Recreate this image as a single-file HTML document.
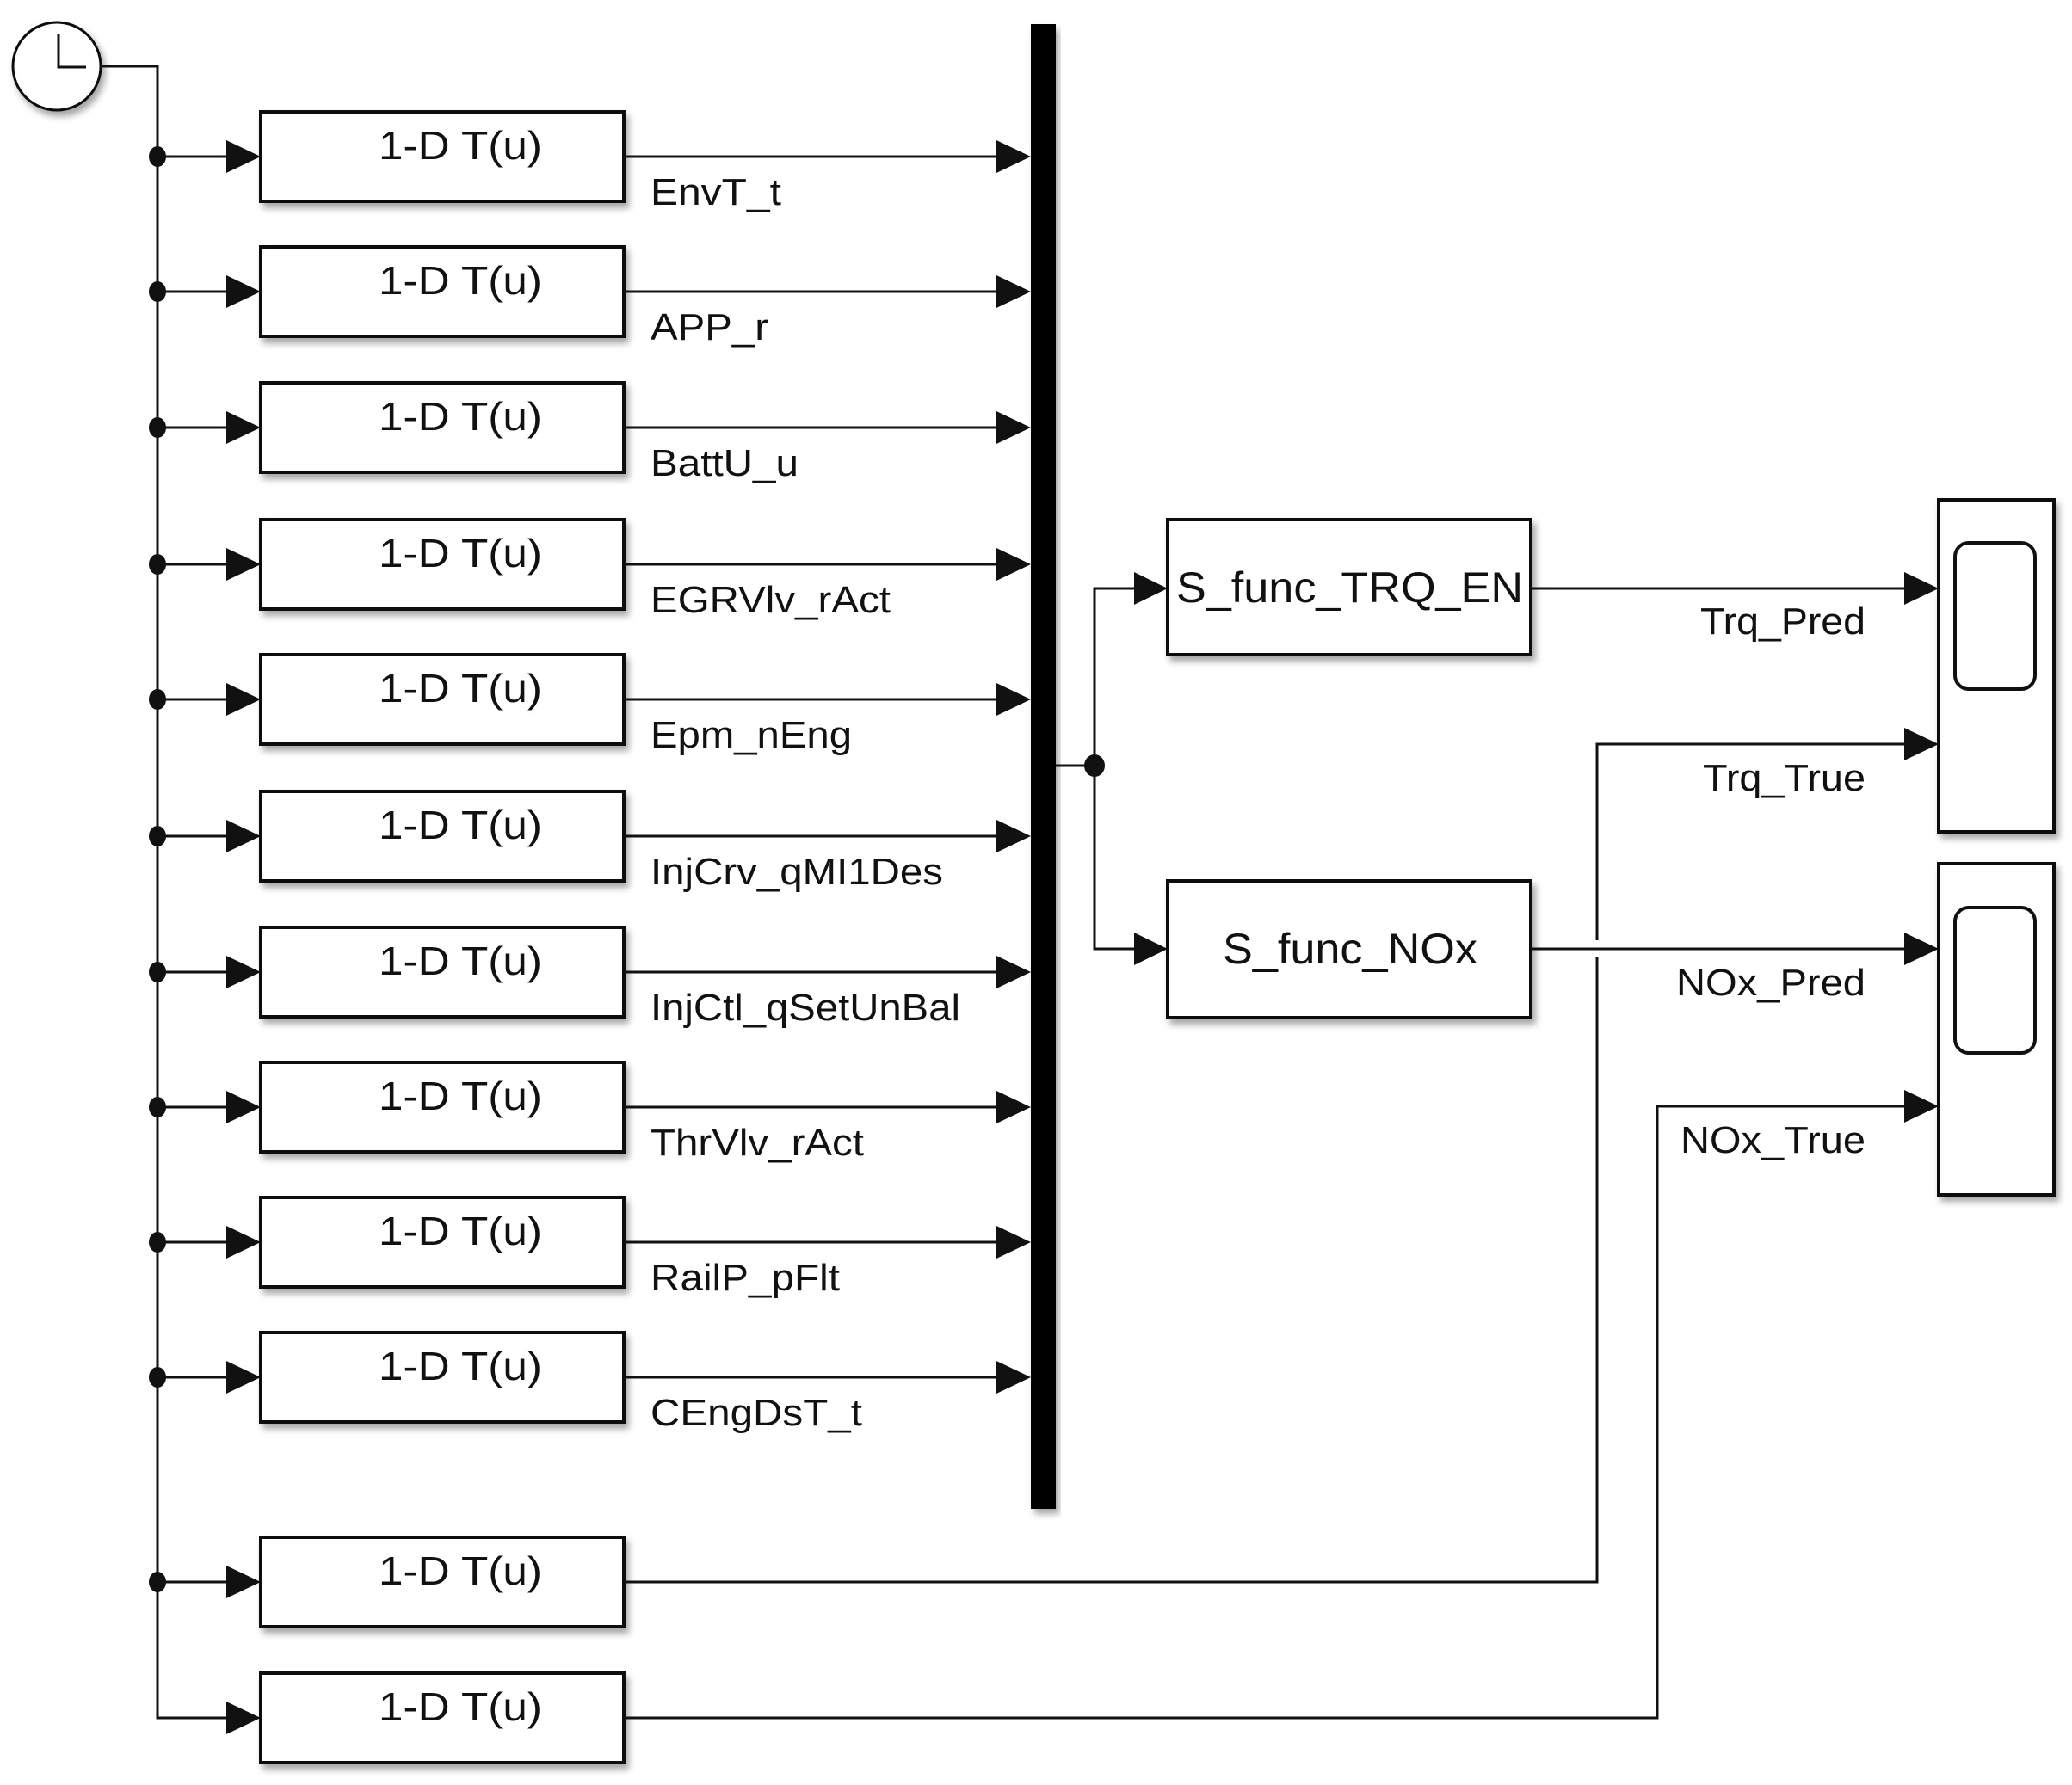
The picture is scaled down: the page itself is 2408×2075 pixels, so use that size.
<!DOCTYPE html>
<html><head><meta charset="utf-8"><style>
html,body{margin:0;padding:0;background:#fff;}
svg{display:block;}
text{font-family:"Liberation Sans",sans-serif;fill:#111;}
</style></head><body>
<svg width="2408" height="2075" viewBox="0 0 2408 2075" xmlns="http://www.w3.org/2000/svg">
<defs>
<filter id="sh" x="-10%" y="-10%" width="130%" height="140%"><feDropShadow dx="4" dy="6" stdDeviation="4" flood-color="#000" flood-opacity="0.35"/></filter>
<g id="blk">
<polygon points="263,-19 303,0 263,19" fill="#111"/>
<rect x="303" y="-52" width="422" height="104" fill="#fff" stroke="#111" stroke-width="4" filter="url(#sh)"/>
<text x="440" y="3" font-size="46" textLength="190" lengthAdjust="spacingAndGlyphs">1-D T(u)</text>
</g>
<g id="in">
<line x1="183" y1="0" x2="265" y2="0" stroke="#111" stroke-width="3"/>
<ellipse cx="183" cy="0" rx="10" ry="12" fill="#111"/>
</g>
<g id="out">
<line x1="725" y1="0" x2="1160" y2="0" stroke="#111" stroke-width="3"/>
<polygon points="1158,-19 1198,0 1158,19" fill="#111"/>
</g>
</defs>
<g stroke="#111" stroke-width="3" fill="none">
<circle cx="66" cy="77" r="51" fill="#fff" filter="url(#sh)"/>
<polyline points="68,40 68,78 100,78"/>
<polyline points="117,77 183,77 183,1997 263,1997"/>
</g>

<use href="#in" y="182"/><use href="#blk" y="182"/><use href="#out" y="182"/>
<use href="#in" y="339"/><use href="#blk" y="339"/><use href="#out" y="339"/>
<use href="#in" y="497"/><use href="#blk" y="497"/><use href="#out" y="497"/>
<use href="#in" y="656"/><use href="#blk" y="656"/><use href="#out" y="656"/>
<use href="#in" y="813"/><use href="#blk" y="813"/><use href="#out" y="813"/>
<use href="#in" y="972"/><use href="#blk" y="972"/><use href="#out" y="972"/>
<use href="#in" y="1130"/><use href="#blk" y="1130"/><use href="#out" y="1130"/>
<use href="#in" y="1287"/><use href="#blk" y="1287"/><use href="#out" y="1287"/>
<use href="#in" y="1444"/><use href="#blk" y="1444"/><use href="#out" y="1444"/>
<use href="#in" y="1601"/><use href="#blk" y="1601"/><use href="#out" y="1601"/>
<use href="#in" y="1839"/><use href="#blk" y="1839"/>
<use href="#blk" y="1997"/>

<text x="756" y="238" font-size="44" textLength="152" lengthAdjust="spacingAndGlyphs">EnvT_t</text>
<text x="756" y="395" font-size="44" textLength="137" lengthAdjust="spacingAndGlyphs">APP_r</text>
<text x="756" y="553" font-size="44" textLength="172" lengthAdjust="spacingAndGlyphs">BattU_u</text>
<text x="756" y="712" font-size="44" textLength="279" lengthAdjust="spacingAndGlyphs">EGRVlv_rAct</text>
<text x="756" y="869" font-size="44" textLength="234" lengthAdjust="spacingAndGlyphs">Epm_nEng</text>
<text x="756" y="1028" font-size="44" textLength="340" lengthAdjust="spacingAndGlyphs">InjCrv_qMI1Des</text>
<text x="756" y="1186" font-size="44" textLength="360" lengthAdjust="spacingAndGlyphs">InjCtl_qSetUnBal</text>
<text x="756" y="1343" font-size="44" textLength="248" lengthAdjust="spacingAndGlyphs">ThrVlv_rAct</text>
<text x="756" y="1500" font-size="44" textLength="220" lengthAdjust="spacingAndGlyphs">RailP_pFlt</text>
<text x="756" y="1657" font-size="44" textLength="246" lengthAdjust="spacingAndGlyphs">CEngDsT_t</text>

<rect x="1198" y="28" width="29" height="1726" fill="#000" filter="url(#sh)"/>
<g stroke="#111" stroke-width="3" fill="none">
<polyline points="1227,890 1272,890"/>
<polyline points="1320,684 1272,684 1272,1103 1320,1103"/>
<polyline points="1779,684 2215,684"/>
<polyline points="725,1839 1856,1839 1856,865 2215,865"/>
<polyline points="725,1997 1926,1997 1926,1286 2215,1286"/>
</g>
<rect x="1846" y="1093" width="20" height="20" fill="#fff"/>
<line x1="1779" y1="1103" x2="2215" y2="1103" stroke="#111" stroke-width="3"/>
<ellipse cx="1272" cy="890" rx="12" ry="13" fill="#111"/>
<g fill="#111">
<polygon points="1318,665 1357,684 1318,703"/>
<polygon points="1318,1084 1357,1103 1318,1122"/>
<polygon points="2213,665 2253,684 2213,703"/>
<polygon points="2213,846 2253,865 2213,884"/>
<polygon points="2213,1084 2253,1103 2213,1122"/>
<polygon points="2213,1267 2253,1286 2213,1305"/>
</g>
<g stroke="#111" stroke-width="4" fill="#fff">
<rect x="1357" y="604" width="422" height="157" filter="url(#sh)"/>
<rect x="1357" y="1024" width="422" height="159" filter="url(#sh)"/>
<rect x="2253" y="581" width="134" height="386" filter="url(#sh)"/>
<rect x="2272" y="631" width="93" height="170" rx="16"/>
<rect x="2253" y="1004" width="134" height="385" filter="url(#sh)"/>
<rect x="2272" y="1055" width="93" height="169" rx="16"/>
</g>
<text x="1367" y="700" font-size="50" textLength="403" lengthAdjust="spacingAndGlyphs">S_func_TRQ_EN</text>
<text x="1421" y="1120" font-size="50" textLength="296" lengthAdjust="spacingAndGlyphs">S_func_NOx</text>
<text x="1976" y="737" font-size="44" textLength="192" lengthAdjust="spacingAndGlyphs">Trq_Pred</text>
<text x="1979" y="919" font-size="44" textLength="189" lengthAdjust="spacingAndGlyphs">Trq_True</text>
<text x="1948" y="1157" font-size="44" textLength="220" lengthAdjust="spacingAndGlyphs">NOx_Pred</text>
<text x="1953" y="1340" font-size="44" textLength="215" lengthAdjust="spacingAndGlyphs">NOx_True</text>
</svg>
</body></html>
